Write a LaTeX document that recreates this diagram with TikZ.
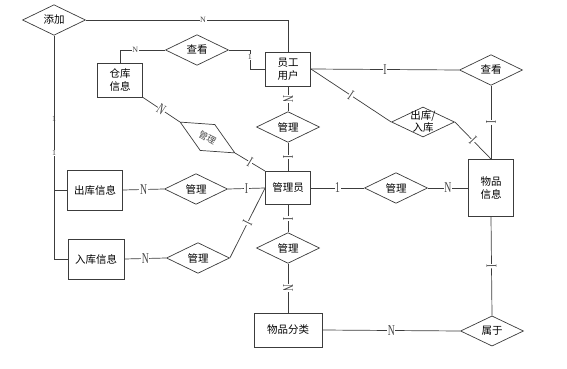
\documentclass[tikz,border=0pt]{standalone}
\usepackage{fontspec}
\setmainfont{Liberation Serif}
\newfontfamily\cjk{Noto Sans CJK SC}
\usetikzlibrary{shapes.geometric}
\definecolor{lnc}{RGB}{60,60,60}
\definecolor{lbc}{RGB}{70,70,70}
\tikzset{
  ent/.style={rectangle, draw=lnc, line width=0.9pt, align=center, font=\cjk\fontsize{10.5}{13}\selectfont, minimum width=45pt, minimum height=34pt, inner sep=1pt},
  rel/.style={diamond, draw=lnc, line width=0.7pt, align=center, font=\cjk\fontsize{10.5}{12}\selectfont, minimum width=63pt, minimum height=30pt, inner sep=0pt},
  conn/.style={line width=0.7pt, color=lnc},
  card/.style={fill=white, inner sep=0.6pt, text=lbc, font=\fontsize{15}{15}\selectfont},
  cardsm/.style={fill=white, inner sep=0.6pt, text=lbc, font=\fontsize{8}{8}\selectfont}
}
\newcommand{\cd}[1]{\scalebox{0.65}[1]{#1}}

\begin{document}
\begin{tikzpicture}[x=1pt, y=-1pt]
  \useasboundingbox (0,0) rectangle (567,369);

  % entities
  \node [ent] (yg) at (288,69) {员工\\用户};
  \node [ent] (ckxx) at (120,80) {仓库\\信息};
  \node [ent, minimum width=55pt, minimum height=40pt] (chxx) at (95,190) {出库信息};
  \node [ent, minimum width=56pt, minimum height=40pt] (rkxx) at (96,259) {入库信息};
  \node [ent, minimum height=33pt] (gly) at (288,188) {管理员};
  \node [ent, minimum height=57pt] (wpxx) at (491,188) {物品\\信息};
  \node [ent, minimum width=68pt] (wpfl) at (288,330) {物品分类};

  % relations
  \node [rel] (tj) at (54,20) {添加};
  \node [rel] (ck1) at (197,50) {查看};
  \node [rel] (ck2) at (491,70) {查看};
  \node [rel, inner sep=-8pt] (crk) at (423,122) {出库/\\入库};
  \node [rel] (gl1) at (288,127) {管理};
  \node [rel] (gl2) at (396,188) {管理};
  \node [rel] (gl3) at (288,248) {管理};
  \node [rel] (gl4) at (196,189) {管理};
  \node [rel] (gl5) at (198,258) {管理};
  \node [rel] (sy) at (492,331) {属于};
  \node [rel, rotate=-29.4, text=lbc, font=\cjk\fontsize{9}{10}\selectfont] (gl6) at (207.5,137.5) {管理};

  % connectors
  \draw [conn] (tj.east) -| node [cardsm, pos=0.29] {N} (yg.north);
  \draw [conn] (ckxx.north) |- node [cardsm, pos=0.67] {N} (ck1.west);
  \draw [conn] (ck1.east) -- ++(21,0) |- node [cardsm, pos=0.18] {1} (yg.west);
  \draw [conn] (tj.south) |- node [cardsm, pos=0.268] {1} (chxx.west);
  \draw [conn] (tj.south) |- node [cardsm, pos=0.263] {1} (rkxx.west);

  \draw [conn] (yg.east) -- node [card] {\cd{I}} (ck2.west);
  \draw [conn] (ck2.south) -- node [card, sloped] {\cd{I}} (wpxx.north);
  \draw [conn] (yg.east) -- node [card, sloped] {\cd{I}} (crk.west);
  \draw [conn] (crk.east) -- node [card, sloped] {\cd{I}} (wpxx.north);
  \draw [conn] (yg.south) -- node [card, sloped] {\cd{N}} (gl1.north);
  \draw [conn] (gl1.south) -- node [card, sloped] {\cd{I}} (gly.north);

  \draw [conn] (gly.east) -- node [card] {\cd{1}} (gl2.west);
  \draw [conn] (gl2.east) -- node [card] {\cd{N}} (wpxx.west);
  \draw [conn] (gly.south) -- node [card, sloped] {\cd{I}} (gl3.north);
  \draw [conn] (gl3.south) -- node [card, sloped] {\cd{N}} (wpfl.north);
  \draw [conn] (wpfl.east) -- node [card] {\cd{N}} (sy.west);
  \draw [conn] (wpxx.south) -- node [card, sloped] {\cd{I}} (sy.north);

  \draw [conn] (chxx.east) -- node [card] {\cd{N}} (gl4.west);
  \draw [conn] (gl4.east) -- node [card] {\cd{I}} (gly.west);
  \draw [conn] (rkxx.east) -- node [card] {\cd{N}} (gl5.west);
  \draw [conn] (gl5.east) -- node [card, sloped] {\cd{I}} (gly.west);

  \draw [conn] (ckxx.south east) -- node [card, sloped] {\cd{N}} (gl6.west);
  \draw [conn] (gl6.east) -- node [card, sloped] {\cd{I}} (gly.north west);
\end{tikzpicture}
\end{document}
